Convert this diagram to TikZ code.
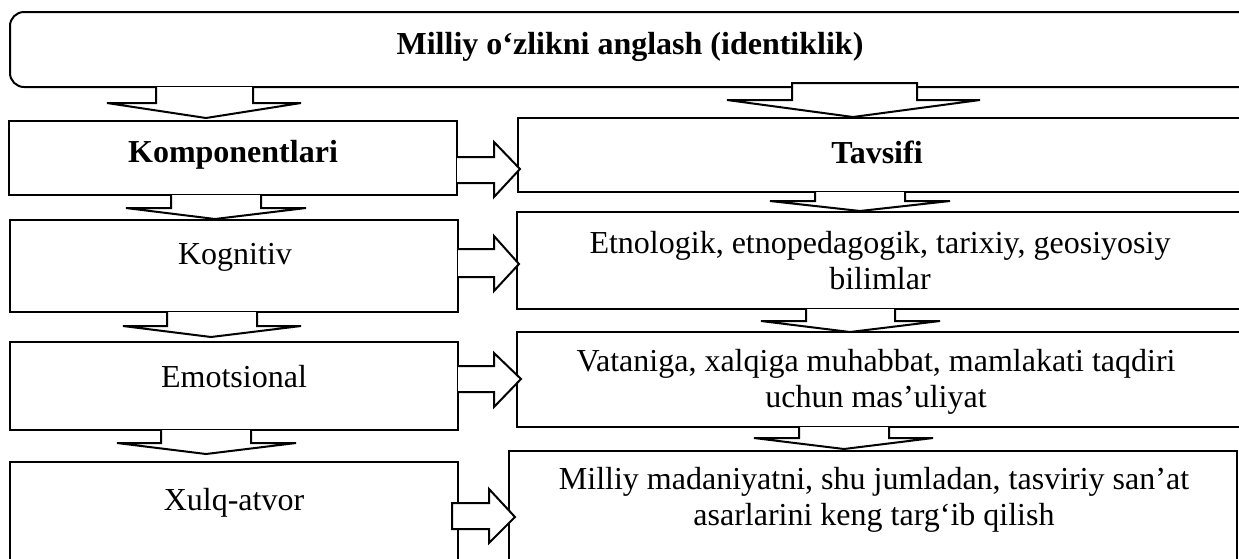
\documentclass[tikz,border=0pt]{standalone}
\usepackage{fontspec}
\setmainfont{Liberation Serif}

\begin{document}
\begin{tikzpicture}[x=0.5pt,y=-0.5pt,line width=1pt,
    blockarrow/.style={draw=black,fill=white,line join=miter},
    lbl/.style={font=\fontsize{16}{18}\selectfont,align=center,inner sep=0pt}]
        \useasboundingbox (0,0) rectangle (1239,558) ;
        \clip (0,0) rectangle (1239,558) ;
        % boxes
        \draw[rounded corners=7pt] (10,12) rectangle (1300,87) ;
        \draw (9,121) rectangle (457,195) ;
        \draw (10,220) rectangle (458,312) ;
        \draw (10,342) rectangle (458,430) ;
        \draw (10,462) rectangle (458,600) ;
        \draw (518,118) rectangle (1300,192) ;
        \draw (517,212) rectangle (1300,309) ;
        \draw (517,332) rectangle (1300,427) ;
        \draw (509,451) rectangle (1237,600) ;
        % texts
        \node[lbl] (title) at (630,47) {\textbf{Milliy o‘zlikni anglash (identiklik)}} ;
        \node[lbl] (komp) at (233,155) {\textbf{Komponentlari}} ;
        \node[lbl] (kogn) at (235,257) {Kognitiv} ;
        \node[lbl] (emot) at (234,377) {Emotsional} ;
        \node[lbl] (xulq) at (234,503) {Xulq-atvor} ;
        \node[lbl] (tavsif) at (877,152) {\textbf{Tavsifi}} ;
        \node[lbl] (etno) at (880,261) {Etnologik, etnopedagogik, tarixiy, geosiyosiy\\bilimlar} ;
        \node[lbl] (vatan) at (876,382) {Vataniga, xalqiga muhabbat, mamlakati taqdiri\\uchun mas’uliyat} ;
        \node[lbl] (madan) at (874,500) {Milliy madaniyatni, shu jumladan, tasviriy san’at\\asarlarini keng targ‘ib qilish} ;
        % down arrows, left column
        \draw[blockarrow] (156,87) -- (156,103) -- (107,103) -- (206,118) -- (301,103) -- (253,103) -- (253,87) ;
        \draw[blockarrow] (171,195) -- (171,208) -- (126,208) -- (215,219) -- (306,208) -- (261,208) -- (261,195) ;
        \draw[blockarrow] (167,312) -- (167,326) -- (123,326) -- (211,337) -- (301,326) -- (257,326) -- (257,312) ;
        \draw[blockarrow] (161,430) -- (161,443) -- (117,443) -- (206,454) -- (296,443) -- (251,443) -- (251,430) ;
        % down arrows, right column
        \draw[blockarrow] (792,83) -- (792,100) -- (727,100) -- (853,117) -- (980,100) -- (917,100) -- (917,83) -- cycle ;
        \draw[blockarrow] (815,192) -- (815,201) -- (770,201) -- (860,211) -- (950,201) -- (905,201) -- (905,192) ;
        \draw[blockarrow] (806,309) -- (806,321) -- (761,321) -- (850,332) -- (940,321) -- (895,321) -- (895,309) ;
        \draw[blockarrow] (799,427) -- (799,438) -- (754,438) -- (844,449) -- (933,438) -- (889,438) -- (889,427) ;
        % arrows to the right
        \draw[blockarrow] (457,157) -- (494,157) -- (494,142) -- (520,169) -- (494,197) -- (494,183) -- (457,183) ;
        \draw[blockarrow] (458,249) -- (494,249) -- (494,236) -- (519,264) -- (494,291) -- (494,277) -- (458,277) ;
        \draw[blockarrow] (458,366) -- (494,366) -- (494,353) -- (521,379) -- (494,407) -- (494,392) -- (458,392) ;
        \draw[blockarrow] (452,503) -- (489,503) -- (489,489) -- (515,517) -- (489,543) -- (489,529) -- (452,529) -- cycle ;
      \end{tikzpicture}
\end{document}
